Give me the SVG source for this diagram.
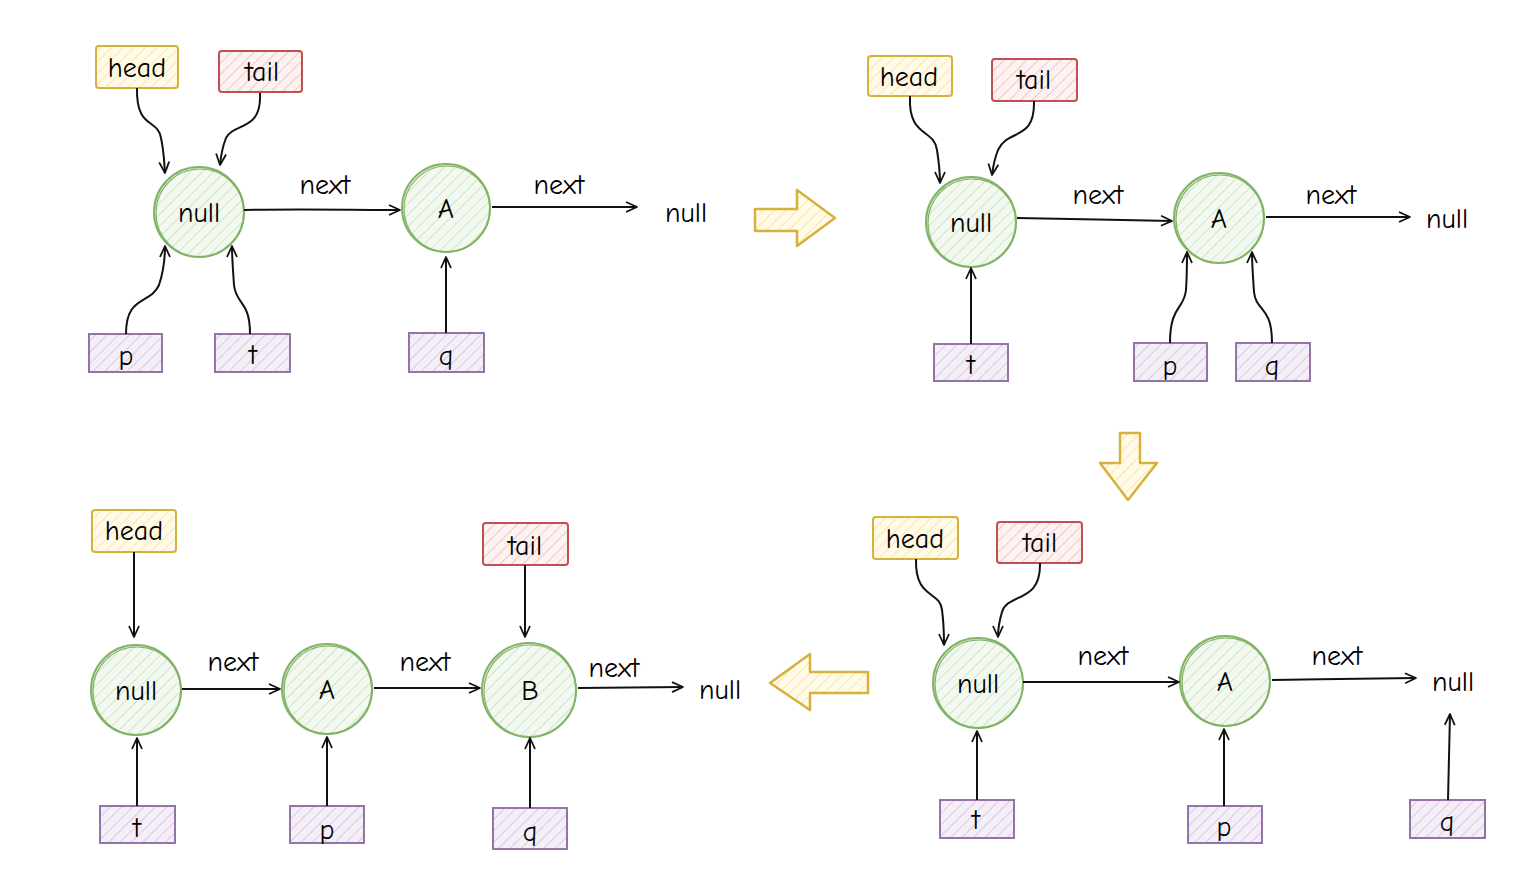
<svg xmlns="http://www.w3.org/2000/svg" width="1529" height="883" viewBox="0 0 1529 883">
<style>
text{font-family:"Comic Neue","Liberation Sans",Arial,sans-serif;font-size:28px;fill:#000;text-anchor:middle;dominant-baseline:central}
.y{stroke:#d6b13c;stroke-width:2;fill:url(#hy)}
.r{stroke:#c0504d;stroke-width:2;fill:url(#hr)}
.pu{stroke:#9673a6;stroke-width:2;fill:url(#hp)}
.g{stroke:#82b366;stroke-width:2;fill:url(#hg)}
.g2{stroke:#82b366;stroke-width:1.2;fill:none}
.c{stroke:#111;stroke-width:2;fill:none;marker-end:url(#ah)}
.big{stroke:#d6b13c;stroke-width:2.5;fill:url(#hy);stroke-linejoin:round}
</style>
<defs>
<pattern id="hy" width="8" height="8" patternUnits="userSpaceOnUse" patternTransform="rotate(45)"><rect width="8" height="8" fill="#fffbe8"/><line x1="0" y1="0" x2="0" y2="8" stroke="#fbe6a8" stroke-width="2"/></pattern>
<pattern id="hr" width="8" height="8" patternUnits="userSpaceOnUse" patternTransform="rotate(45)"><rect width="8" height="8" fill="#fdf2f2"/><line x1="0" y1="0" x2="0" y2="8" stroke="#f3c6c4" stroke-width="2"/></pattern>
<pattern id="hp" width="8" height="8" patternUnits="userSpaceOnUse" patternTransform="rotate(45)"><rect width="8" height="8" fill="#f4eff7"/><line x1="0" y1="0" x2="0" y2="8" stroke="#d9c9e4" stroke-width="2"/></pattern>
<pattern id="hg" width="8" height="8" patternUnits="userSpaceOnUse" patternTransform="rotate(45)"><rect width="8" height="8" fill="#f3f9f0"/><line x1="0" y1="0" x2="0" y2="8" stroke="#cfe6c6" stroke-width="2"/></pattern>
<marker id="ah" viewBox="-13 -7 15 14" refX="0" refY="0" markerWidth="15" markerHeight="14" markerUnits="userSpaceOnUse" orient="auto">
<path d="M-11,-5 L0,0 L-11,5" fill="none" stroke="#111" stroke-width="1.8" stroke-linejoin="round"/>
</marker>
</defs>

<!-- Panel 1 -->
<g id="p1-head"><rect class="y" x="96" y="46" width="82" height="42" rx="3"/><text x="137" y="68">head</text></g>
<g id="p1-tail"><rect class="r" x="219" y="51" width="83" height="41" rx="3"/><text x="262" y="72">tail</text></g>
<g id="p1-null"><circle class="g" cx="199" cy="212" r="45"/><circle class="g2" cx="200" cy="213" r="44"/><text x="199" y="213">null</text></g>
<g id="p1-A"><circle class="g" cx="446" cy="208" r="44"/><circle class="g2" cx="447" cy="209" r="43"/><text x="446" y="209">A</text></g>
<g id="p1-p"><rect class="pu" x="89" y="334" width="73" height="38"/><text x="126" y="356">p</text></g>
<g id="p1-t"><rect class="pu" x="215" y="334" width="75" height="38"/><text x="253" y="355">t</text></g>
<g id="p1-q"><rect class="pu" x="409" y="333" width="75" height="39"/><text x="446" y="356">q</text></g>
<text x="325" y="185">next</text>
<text x="559" y="185">next</text>
<text x="686" y="213">null</text>

<!-- Panel 2 -->
<g id="p2-head"><rect class="y" x="868" y="56" width="84" height="40" rx="3"/><text x="909" y="77">head</text></g>
<g id="p2-tail"><rect class="r" x="992" y="59" width="85" height="42" rx="3"/><text x="1034" y="80">tail</text></g>
<g id="p2-null"><circle class="g" cx="971" cy="222" r="45"/><circle class="g2" cx="972" cy="223" r="44"/><text x="971" y="223">null</text></g>
<g id="p2-A"><circle class="g" cx="1219" cy="218" r="45"/><circle class="g2" cx="1220" cy="219" r="44"/><text x="1219" y="219">A</text></g>
<g id="p2-t"><rect class="pu" x="934" y="344" width="74" height="37"/><text x="971" y="365">t</text></g>
<g id="p2-p"><rect class="pu" x="1134" y="343" width="73" height="38"/><text x="1170" y="366">p</text></g>
<g id="p2-q"><rect class="pu" x="1236" y="343" width="74" height="38"/><text x="1272" y="366">q</text></g>
<text x="1098" y="195">next</text>
<text x="1331" y="195">next</text>
<text x="1447" y="219">null</text>

<!-- Panel 3 -->
<g id="p3-head"><rect class="y" x="873" y="517" width="85" height="42" rx="3"/><text x="915" y="539">head</text></g>
<g id="p3-tail"><rect class="r" x="997" y="522" width="85" height="41" rx="3"/><text x="1040" y="543">tail</text></g>
<g id="p3-null"><circle class="g" cx="978" cy="683" r="45"/><circle class="g2" cx="979" cy="684" r="44"/><text x="978" y="684">null</text></g>
<g id="p3-A"><circle class="g" cx="1225" cy="681" r="45"/><circle class="g2" cx="1226" cy="682" r="44"/><text x="1225" y="682">A</text></g>
<g id="p3-t"><rect class="pu" x="940" y="800" width="74" height="38"/><text x="976" y="820">t</text></g>
<g id="p3-p"><rect class="pu" x="1188" y="806" width="74" height="37"/><text x="1224" y="827">p</text></g>
<g id="p3-q"><rect class="pu" x="1410" y="800" width="75" height="38"/><text x="1447" y="822">q</text></g>
<text x="1103" y="656">next</text>
<text x="1337" y="656">next</text>
<text x="1453" y="682">null</text>

<!-- Panel 4 -->
<g id="p4-head"><rect class="y" x="92" y="510" width="84" height="42" rx="3"/><text x="134" y="531">head</text></g>
<g id="p4-tail"><rect class="r" x="483" y="523" width="85" height="42" rx="3"/><text x="525" y="546">tail</text></g>
<g id="p4-null"><circle class="g" cx="136" cy="690" r="45"/><circle class="g2" cx="137" cy="691" r="44"/><text x="136" y="691">null</text></g>
<g id="p4-A"><circle class="g" cx="327" cy="689" r="45"/><circle class="g2" cx="328" cy="690" r="44"/><text x="327" y="690">A</text></g>
<g id="p4-B"><circle class="g" cx="529" cy="690" r="47"/><circle class="g2" cx="530" cy="691" r="46"/><text x="530" y="691">B</text></g>
<g id="p4-t"><rect class="pu" x="100" y="806" width="75" height="37"/><text x="137" y="828">t</text></g>
<g id="p4-p"><rect class="pu" x="290" y="806" width="74" height="37"/><text x="327" y="830">p</text></g>
<g id="p4-q"><rect class="pu" x="493" y="808" width="74" height="41"/><text x="530" y="832">q</text></g>
<text x="233" y="662">next</text>
<text x="425" y="662">next</text>
<text x="614" y="668">next</text>
<text x="720" y="690">null</text>

<!-- Big arrows -->
<g id="arrow-right"><path class="big" d="M755,209 L797,209 L797,190 L835,218 L797,246 L797,231 L755,231 Z"/></g>
<g id="arrow-down"><path class="big" d="M1120,433 L1140,433 L1140,463 L1157,463 L1128,500 L1100,463 L1120,463 Z"/></g>
<g id="arrow-left"><path class="big" d="M868,672 L810,672 L810,654 L770,683 L810,710 L810,693 L868,693 Z"/></g>

<!-- Connectors -->
<g id="connectors">
<path class="c" d="M137,88 C136,130 158,118 161,138 C164,152 164,160 165,173"/>
<path class="c" d="M260,93 C262,132 234,122 226,138 C222,148 221,155 220,165"/>
<path class="c" d="M126,334 C126,295 150,305 159,285 C164,270 165,260 165,246"/>
<path class="c" d="M250,334 C250,300 236,305 234,285 C233,270 232,258 232,246"/>
<path class="c" d="M446,333 L446,257"/>
<path class="c" d="M244,210 C300,209 350,210 400,210"/>
<path class="c" d="M492,207 C540,207 590,207 637,207"/>
<path class="c" d="M910,96 C908,138 934,128 937,150 C939,163 940,172 940,183"/>
<path class="c" d="M1034,101 C1035,142 1008,128 998,150 C994,160 993,167 992,175"/>
<path class="c" d="M971,344 L971,268"/>
<path class="c" d="M1170,343 C1170,305 1184,310 1186,290 C1187,275 1187,263 1187,252"/>
<path class="c" d="M1272,343 C1272,305 1256,312 1254,292 C1253,277 1252,264 1252,252"/>
<path class="c" d="M1017,218 C1070,219 1120,220 1172,221"/>
<path class="c" d="M1266,217 C1310,217 1360,217 1410,217"/>
<path class="c" d="M916,559 C915,600 940,590 942,610 C944,625 944,634 944,645"/>
<path class="c" d="M1040,563 C1041,604 1008,592 1002,612 C999,622 998,630 998,637"/>
<path class="c" d="M977,800 L977,731"/>
<path class="c" d="M1224,806 L1224,729"/>
<path class="c" d="M1448,800 L1450,714"/>
<path class="c" d="M1023,682 C1080,682 1130,682 1179,682"/>
<path class="c" d="M1272,680 C1320,679 1370,679 1416,678"/>
<path class="c" d="M134,552 L134,637"/>
<path class="c" d="M525,565 L525,637"/>
<path class="c" d="M137,806 L137,738"/>
<path class="c" d="M327,806 L327,737"/>
<path class="c" d="M530,808 L530,738"/>
<path class="c" d="M182,689 L280,689"/>
<path class="c" d="M374,688 L480,688"/>
<path class="c" d="M578,688 L683,687"/>
</g>
</svg>
